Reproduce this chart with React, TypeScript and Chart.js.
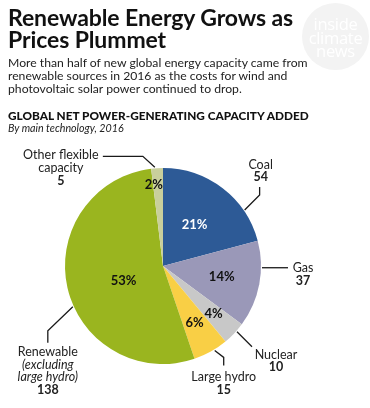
import React, { useEffect, useRef } from "react";
import { Chart, registerables } from "chart.js";

Chart.register(...registerables);

const categories = ["Coal", "Gas", "Nuclear", "Large hydro", "Renewable", "Other flexible"];
const capacityAdded = [54, 37, 10, 15, 138, 5];
const calloutLabels: string[][] = [
  ["Coal"],
  ["Gas"],
  ["Nuclear"],
  ["Large hydro"],
  ["Renewable", "(excluding", "large hydro)"],
  ["Other flexible", "capacity"],
];
const sliceColors = ["#2d5a96", "#9a98b8", "#c8c8c8", "#f9cf45", "#9ab51f", "#c9cf9c"];

// style / layout of annotations (not data)
const pctStyle = [
  { r: 0.53, da: 0, color: "#ffffff" },
  { r: 0.61, da: 0, color: "#111" },
  { r: 0.71, da: 0, color: "#111" },
  { r: 0.66, da: 0, color: "#111" },
  { r: 0.43, da: -8, color: "#111" },
  { r: 0.83, da: -3, color: "#111" },
];
// t: fraction along arc where the leader starts; segs: relative moves; label: offset from end
const callouts = [
  { t: 0.74, segs: [[15, -15], [0, -8]], lx: 1, ly: -22, lh: 12 },
  { t: 0.31, segs: [[26, 0]], lx: 15, ly: 0, lh: 13.5 },
  { t: 0.37, segs: [[15, 15]], lx: 24, ly: 8, lh: 12.5 },
  { t: 0.39, segs: [[9, 7], [0, 8]], lx: 0, ly: 12, lh: 13 },
  { t: 0.44, segs: [[-25, 24], [0, 12]], lx: 0, ly: 9, lh: 12.7 },
  { t: 0.32, segs: [[-12, -11], [-40, 0]], lx: -42, ly: -1, lh: 13 },
];

const LABEL_FONT = "Lato, 'Open Sans', sans-serif";

const annotationPlugin = {
  id: "annotations",
  afterDatasetsDraw(chart: any) {
    const ctx = chart.ctx;
    const meta = chart.getDatasetMeta(0);
    const data = chart.data.datasets[0].data as number[];
    const total = data.reduce((a, b) => a + b, 0);
    ctx.save();
    meta.data.forEach((arc: any, i: number) => {
      const { x, y, startAngle, endAngle, outerRadius } = arc.getProps(
        ["x", "y", "startAngle", "endAngle", "outerRadius"],
        true
      );
      const ps = pctStyle[i];
      const mid = (startAngle + endAngle) / 2 + (ps.da * Math.PI) / 180;
      const px = x + Math.cos(mid) * outerRadius * ps.r;
      const py = y + Math.sin(mid) * outerRadius * ps.r;
      ctx.fillStyle = ps.color;
      ctx.font = `bold 13px ${LABEL_FONT}`;
      ctx.textAlign = "center";
      ctx.textBaseline = "middle";
      ctx.fillText(`${Math.round((data[i] / total) * 100)}%`, px, py);

      const c = callouts[i];
      const a = startAngle + (endAngle - startAngle) * c.t;
      let cx = x + Math.cos(a) * (outerRadius + 1);
      let cy = y + Math.sin(a) * (outerRadius + 1);
      ctx.beginPath();
      ctx.moveTo(cx, cy);
      c.segs.forEach(([dx, dy]) => {
        cx += dx;
        cy += dy;
        ctx.lineTo(cx, cy);
      });
      ctx.strokeStyle = "#1a1a1a";
      ctx.lineWidth = 1.3;
      ctx.stroke();

      const lines = calloutLabels[i];
      const lx = cx + c.lx;
      let ly = cy + c.ly;
      ctx.fillStyle = "#222";
      lines.forEach((ln, k) => {
        const italic = i === 4 && k > 0;
        ctx.font = `${italic ? "italic " : ""}12.5px ${LABEL_FONT}`;
        ctx.fillText(ln, lx, ly);
        ly += c.lh;
      });
      ctx.font = `bold 12.5px ${LABEL_FONT}`;
      ctx.fillText(String(data[i]), lx, ly);
    });
    ctx.restore();
  },
};

export default function App() {
  const ref = useRef<HTMLCanvasElement>(null);
  useEffect(() => {
    const chart = new Chart(ref.current!, {
      type: "pie",
      data: {
        labels: categories,
        datasets: [
          {
            data: capacityAdded,
            backgroundColor: sliceColors,
            borderWidth: 0,
          },
        ],
      },
      options: {
        animation: false,
        responsive: false,
        layout: { padding: { left: 65, top: 168, right: 109, bottom: 44 } },
        plugins: { legend: { display: false }, tooltip: { enabled: false } },
      },
      plugins: [annotationPlugin],
    });
    return () => chart.destroy();
  }, []);

  const font = "Lato, 'Open Sans', sans-serif";
  return (
    <div
      style={{
        position: "absolute",
        left: 0,
        top: 0,
        width: 370,
        height: 408,
        background: "#fff",
        overflow: "hidden",
        fontFamily: font,
        color: "#111",
      }}
    >
      <canvas ref={ref} width={370} height={408} style={{ position: "absolute", left: 0, top: 0 }} />
      <div
        style={{
          position: "absolute",
          left: 302,
          top: 3,
          width: 67,
          height: 67,
          borderRadius: "50%",
          background: "#f3f3f3",
          color: "#fff",
          fontSize: 16.5,
          lineHeight: "13.5px",
          textAlign: "center",
          paddingTop: 14,
          boxSizing: "border-box",
          fontFamily: "'Open Sans', sans-serif",
          letterSpacing: -0.3,
        }}
      >
        inside
        <br />
        climate
        <br />
        news
      </div>
      <div
        style={{
          position: "absolute",
          left: 8,
          top: 6,
          fontWeight: 700,
          fontSize: 23,
          lineHeight: "22px",
          letterSpacing: -0.1,
          whiteSpace: "nowrap",
        }}
      >
        Renewable Energy Grows as
        <br />
        Prices Plummet
      </div>
      <div
        style={{
          position: "absolute",
          left: 8,
          top: 56,
          fontSize: 12.2,
          lineHeight: "13px",
          whiteSpace: "nowrap",
          color: "#222",
        }}
      >
        More than half of new global energy capacity came from
        <br />
        renewable sources in 2016 as the costs for wind and
        <br />
        photovoltaic solar power continued to drop.
      </div>
      <div
        style={{
          position: "absolute",
          left: 8,
          top: 109,
          fontSize: 11.8,
          fontWeight: 900,
          lineHeight: "14px",
          whiteSpace: "nowrap",
        }}
      >
        GLOBAL NET POWER-GENERATING CAPACITY ADDED
      </div>
      <div
        style={{
          position: "absolute",
          left: 8,
          top: 122,
          fontSize: 10.7,
          fontStyle: "italic",
          lineHeight: "12px",
          whiteSpace: "nowrap",
          color: "#222",
        }}
      >
        By main technology, 2016
      </div>
    </div>
  );
}
